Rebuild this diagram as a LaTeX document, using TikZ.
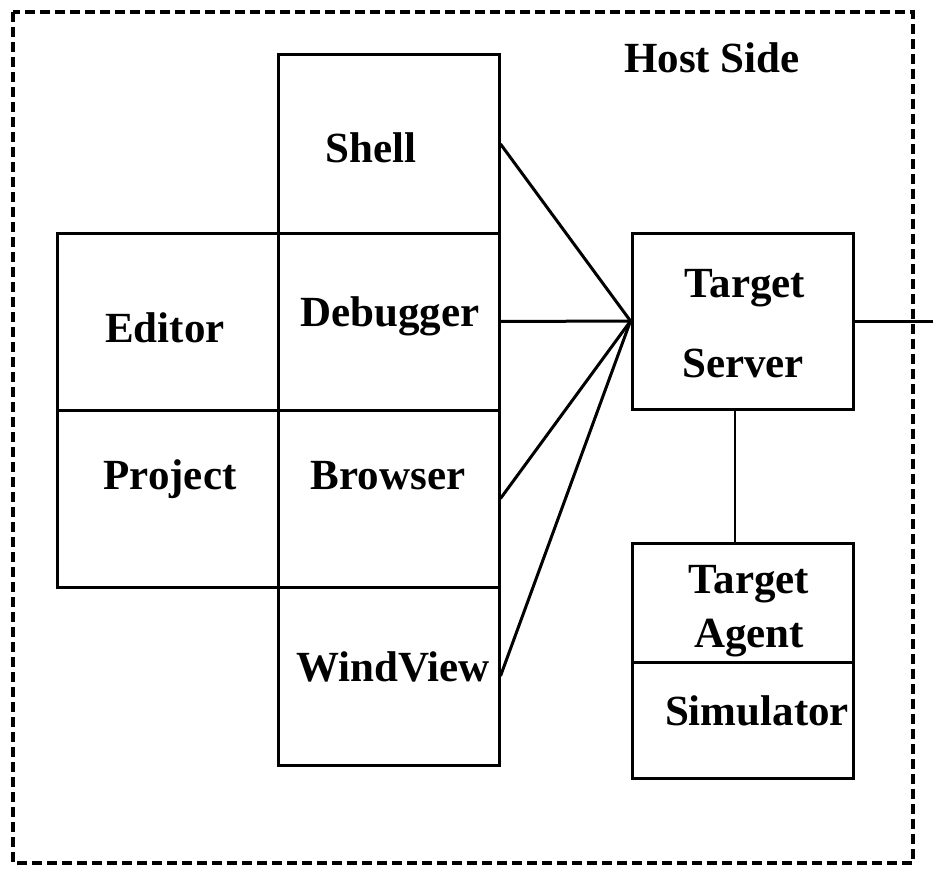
\documentclass[tikz,border=0pt]{standalone}
\usepackage{fontspec}
\setmainfont{Liberation Serif}
\begin{document}
\begin{tikzpicture}[x=1pt,y=-1pt,
  box/.style={draw=black,line width=3pt,rectangle,inner sep=0pt,minimum width=#1},
  lbl/.style={anchor=base,inner sep=0pt,font=\fontsize{43}{52}\selectfont\bfseries},
  conn/.style={draw=black,line width=3pt},
  thin/.style={draw=black,line width=2pt}]
\useasboundingbox (0,0) rectangle (933,869);
% outer dashed frame
\draw[line width=4pt,dash pattern=on 10pt off 5pt] (13,12) rectangle (913,863);
% boxes
\node[box=221pt,minimum height=178pt] (shell) at (388.5,144) {};
\node[box=221pt,minimum height=177pt] (editor) at (167.5,321.5) {};
\node[box=221pt,minimum height=177pt] (debugger) at (388.5,321.5) {};
\node[box=221pt,minimum height=177pt] (project) at (167.5,498.5) {};
\node[box=221pt,minimum height=177pt] (browser) at (388.5,498.5) {};
\node[box=221pt,minimum height=178pt] (windview) at (388.5,676) {};
\node[box=221pt,minimum height=176pt] (server) at (742.5,321) {};
\node[box=221pt,minimum height=119pt] (agent) at (742.5,602.5) {};
\node[box=221pt,minimum height=116pt] (sim) at (742.5,720) {};
% labels
\node[lbl] (thost) at (712,73) {Host Side};
\node[lbl] (tshell) at (371,163) {Shell};
\node[lbl] (teditor) at (165,342) {Editor};
\node[lbl] (tdebug) at (390,326) {Debugger};
\node[lbl] (tproject) at (170,489) {Project};
\node[lbl] (tbrowser) at (388,489) {Browser};
\node[lbl] (twind) at (393,681) {WindView};
\node[lbl] (tserv1) at (745,297) {Target};
\node[lbl] (tserv2) at (743,377) {Server};
\node[lbl] (tagent1) at (749,593) {Target};
\node[lbl] (tagent2) at (749,647) {Agent};
\node[lbl] (tsim) at (757,725) {Simulator};
% connectors
\draw[conn] (shell.east) -- (server.west);
\draw[conn] (debugger.east) -- (server.west);
\draw[conn] (browser.east) -- (server.west);
\draw[conn] (windview.east) -- (server.west);
\coordinate (outR) at (933,321);
\draw[conn] (server.east) -- (outR);
\coordinate (vx) at (735,0);
\draw[thin] (server.south -| vx) -- (agent.north -| vx);
\end{tikzpicture}
\end{document}
